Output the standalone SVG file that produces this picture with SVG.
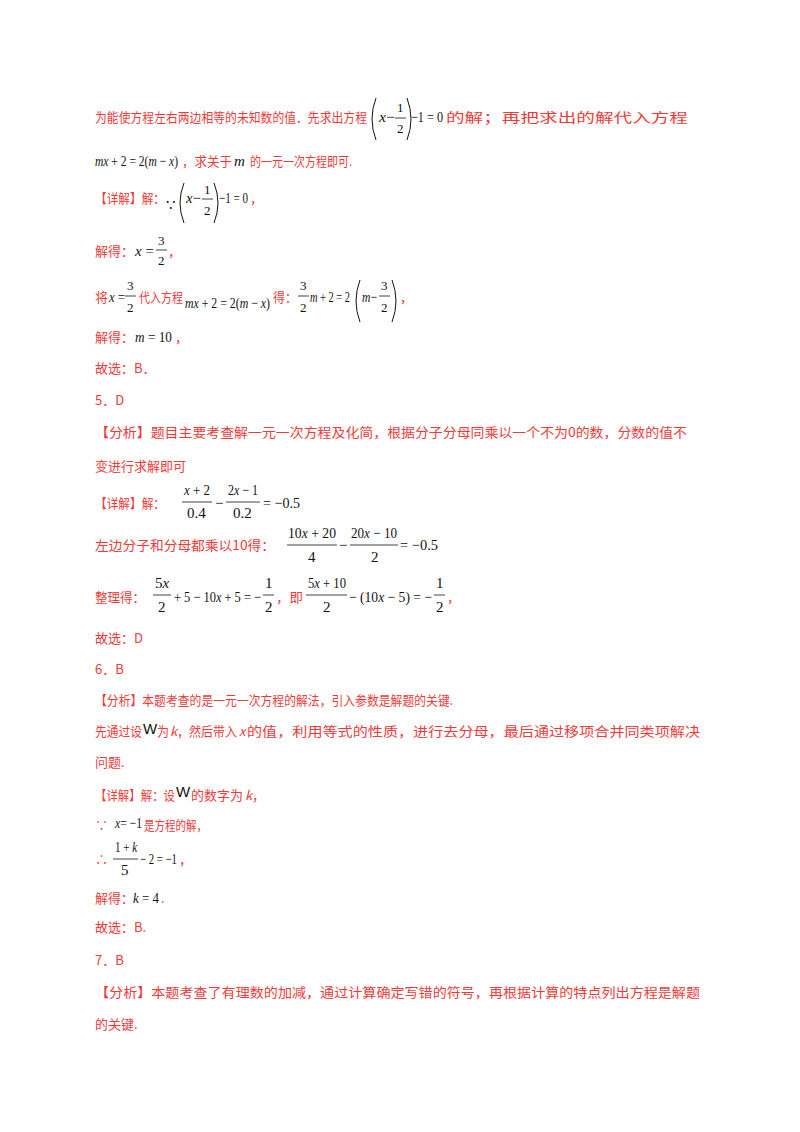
<svg xmlns="http://www.w3.org/2000/svg" width="800" height="1132" viewBox="0 0 800 1132">
<style>
.r{fill:#f03a3a;font-family:"Noto Sans CJK SC",sans-serif;font-size:13px}
.m{fill:#111;font-family:"Liberation Serif",serif;font-size:15px}
.i{font-style:italic}
.s{font-size:13px}
.p{fill:none;stroke:#111;stroke-width:1}
.b{stroke:#111;stroke-width:0.8}
</style>
<rect width="800" height="1132" fill="#fff"/>
<text class="r" x="95" y="122" textLength="272" lengthAdjust="spacingAndGlyphs">为能使方程左右两边相等的未知数的值．先求出方程</text>
<path class="p" d="M376 98 Q368 119 376 140"/>
<text class="m" x="379" y="122" textLength="16" lengthAdjust="spacingAndGlyphs"><tspan class="i">x</tspan>−</text>
<text class="m s" x="397" y="112">1</text><line class="b" x1="395" y1="118" x2="406" y2="118"/><text class="m s" x="397" y="133">2</text>
<path class="p" d="M407 98 Q415 119 407 140"/>
<text class="m" x="411" y="122" textLength="32" lengthAdjust="spacingAndGlyphs">−1 = 0</text>
<text class="r" x="446" y="122" font-size="16" textLength="242" lengthAdjust="spacingAndGlyphs">的解；再把求出的解代入方程</text>
<text class="m" x="95" y="166" textLength="83" lengthAdjust="spacingAndGlyphs"><tspan class="i">mx</tspan> + 2 = 2(<tspan class="i">m</tspan> − <tspan class="i">x</tspan>)</text>
<text class="r" x="182" y="166" textLength="50" lengthAdjust="spacingAndGlyphs">，求关于</text>
<text class="m i" x="234" y="166">m</text>
<text class="r" x="250" y="166" textLength="102" lengthAdjust="spacingAndGlyphs">的一元一次方程即可.</text>
<text class="r" x="95" y="203" textLength="70" lengthAdjust="spacingAndGlyphs">【详解】解：</text>
<text class="m" x="166" y="210" font-size="11">∵</text>
<path class="p" d="M184 183 Q176 203 184 223"/>
<text class="m" x="186" y="203" textLength="15" lengthAdjust="spacingAndGlyphs"><tspan class="i">x</tspan>−</text>
<text class="m s" x="204" y="194">1</text><line class="b" x1="202" y1="199" x2="213" y2="199"/><text class="m s" x="204" y="215">2</text>
<path class="p" d="M214 183 Q222 203 214 223"/>
<text class="m" x="219" y="203" textLength="29" lengthAdjust="spacingAndGlyphs">−1 = 0</text>
<text class="r" x="250" y="203">，</text>
<text class="r" x="95" y="256">解得：</text>
<text class="m" x="135" y="256"><tspan class="i">x</tspan> =</text>
<text class="m s" x="158" y="245">3</text><line class="b" x1="156" y1="250" x2="167" y2="250"/><text class="m s" x="158" y="265">2</text>
<text class="r" x="168" y="256">，</text>
<text class="r" x="95" y="302">将</text>
<text class="m" x="109" y="302" textLength="16" lengthAdjust="spacingAndGlyphs"><tspan class="i">x</tspan> =</text>
<text class="m s" x="127" y="290">3</text><line class="b" x1="125" y1="296" x2="136" y2="296"/><text class="m s" x="127" y="312">2</text>
<text class="r" x="139" y="302" textLength="44" lengthAdjust="spacingAndGlyphs">代入方程</text>
<text class="m" x="185" y="308" textLength="85" lengthAdjust="spacingAndGlyphs"><tspan class="i">mx</tspan> + 2 = 2(<tspan class="i">m</tspan> − <tspan class="i">x</tspan>)</text>
<text class="r" x="273" y="302" textLength="24" lengthAdjust="spacingAndGlyphs">得：</text>
<text class="m s" x="300" y="290">3</text><line class="b" x1="298" y1="296" x2="309" y2="296"/><text class="m s" x="300" y="312">2</text>
<text class="m" x="310" y="302" textLength="40" lengthAdjust="spacingAndGlyphs"><tspan class="i">m</tspan> + 2 = 2</text>
<path class="p" d="M360 280 Q352 301 360 322"/>
<text class="m" x="362" y="302" textLength="15" lengthAdjust="spacingAndGlyphs"><tspan class="i">m</tspan>−</text>
<text class="m s" x="381" y="290">3</text><line class="b" x1="379" y1="296" x2="390" y2="296"/><text class="m s" x="381" y="312">2</text>
<path class="p" d="M392 280 Q400 301 392 322"/>
<text class="r" x="400" y="302">，</text>
<text class="r" x="95" y="342">解得：</text>
<text class="m" x="135" y="342" textLength="37" lengthAdjust="spacingAndGlyphs"><tspan class="i">m</tspan> = 10</text>
<text class="r" x="175" y="342">，</text>
<text class="r" x="95" y="373">故选：B．</text>
<text class="r" x="95" y="405">5．D</text>
<text class="r" x="95" y="437" textLength="592" lengthAdjust="spacingAndGlyphs">【分析】题目主要考查解一元一次方程及化简，根据分子分母同乘以一个不为0的数，分数的值不</text>
<text class="r" x="95" y="471">变进行求解即可</text>
<text class="r" x="95" y="508" textLength="70" lengthAdjust="spacingAndGlyphs">【详解】解：</text>
<text class="m" x="184" y="495" font-size="14" textLength="26" lengthAdjust="spacingAndGlyphs"><tspan class="i">x</tspan> + 2</text><line class="b" x1="182" y1="502" x2="212" y2="502"/><text class="m" x="187" y="518" font-size="14">0.4</text>
<text class="m" x="215" y="508">−</text>
<text class="m" x="228" y="495" font-size="14" textLength="30" lengthAdjust="spacingAndGlyphs">2<tspan class="i">x</tspan> − 1</text><line class="b" x1="226" y1="502" x2="260" y2="502"/><text class="m" x="233" y="518" font-size="14">0.2</text>
<text class="m" x="263" y="508" textLength="37" lengthAdjust="spacingAndGlyphs">= −0.5</text>
<text class="r" x="95" y="550" textLength="180" lengthAdjust="spacingAndGlyphs">左边分子和分母都乘以10得：</text>
<text class="m" x="288" y="538" font-size="14" textLength="48" lengthAdjust="spacingAndGlyphs">10<tspan class="i">x</tspan> + 20</text><line class="b" x1="287" y1="545" x2="337" y2="545"/><text class="m" x="308" y="562" font-size="14">4</text>
<text class="m" x="339" y="550" font-size="13">−</text>
<text class="m" x="351" y="538" font-size="14" textLength="46" lengthAdjust="spacingAndGlyphs">20<tspan class="i">x</tspan> − 10</text><line class="b" x1="350" y1="545" x2="398" y2="545"/><text class="m" x="371" y="562" font-size="14">2</text>
<text class="m" x="400" y="550" textLength="38" lengthAdjust="spacingAndGlyphs">= −0.5</text>
<text class="r" x="95" y="602" textLength="50" lengthAdjust="spacingAndGlyphs">整理得：</text>
<text class="m" x="155" y="588" font-size="14">5<tspan class="i">x</tspan></text><line class="b" x1="153" y1="595" x2="171" y2="595"/><text class="m" x="158" y="612" font-size="14">2</text>
<text class="m" x="174" y="602" textLength="87" lengthAdjust="spacingAndGlyphs">+ 5 − 10<tspan class="i">x</tspan> + 5 = −</text>
<text class="m" x="265" y="588" font-size="14">1</text><line class="b" x1="263" y1="595" x2="274" y2="595"/><text class="m" x="265" y="612" font-size="14">2</text>
<text class="r" x="276" y="602" textLength="27" lengthAdjust="spacingAndGlyphs">，即</text>
<text class="m" x="308" y="588" font-size="14" textLength="38" lengthAdjust="spacingAndGlyphs">5<tspan class="i">x</tspan> + 10</text><line class="b" x1="306" y1="595" x2="347" y2="595"/><text class="m" x="323" y="612" font-size="14">2</text>
<text class="m" x="349" y="602" textLength="83" lengthAdjust="spacingAndGlyphs">− (10<tspan class="i">x</tspan> − 5) = −</text>
<text class="m" x="436" y="588" font-size="14">1</text><line class="b" x1="434" y1="595" x2="445" y2="595"/><text class="m" x="436" y="612" font-size="14">2</text>
<text class="r" x="447" y="602">，</text>
<text class="r" x="95" y="643">故选：D</text>
<text class="r" x="95" y="674">6．B</text>
<text class="r" x="95" y="705" textLength="358" lengthAdjust="spacingAndGlyphs">【分析】本题考查的是一元一次方程的解法，引入参数是解题的关键.</text>
<text class="r" x="95" y="736" textLength="47" lengthAdjust="spacingAndGlyphs">先通过设</text>
<text x="143" y="734" font-family="Liberation Sans,sans-serif" font-size="15" fill="#111">W</text>
<text class="r" x="157" y="736" textLength="12" lengthAdjust="spacingAndGlyphs">为</text>
<text class="r i" x="170" y="736" font-family="Liberation Serif,serif">k</text>
<text class="r" x="177" y="736" textLength="60" lengthAdjust="spacingAndGlyphs">，然后带入</text>
<text class="r i" x="239" y="736" font-family="Liberation Serif,serif">x</text>
<text class="r" x="247" y="736" textLength="453" lengthAdjust="spacingAndGlyphs">的值，利用等式的性质，进行去分母，最后通过移项合并同类项解决</text>
<text class="r" x="95" y="767">问题.</text>
<text class="r" x="95" y="800" textLength="80" lengthAdjust="spacingAndGlyphs">【详解】解：设</text>
<text x="176" y="797" font-family="Liberation Sans,sans-serif" font-size="15" fill="#111">W</text>
<text class="r" x="191" y="800" textLength="52" lengthAdjust="spacingAndGlyphs">的数字为</text>
<text class="r i" x="245" y="800" font-family="Liberation Serif,serif">k</text>
<text class="r" x="252" y="800">，</text>
<text class="r" x="95" y="830">∵</text>
<text class="m" x="115" y="828" textLength="27" lengthAdjust="spacingAndGlyphs"><tspan class="i">x</tspan>= −1</text>
<text class="r" x="144" y="830" textLength="63" lengthAdjust="spacingAndGlyphs">是方程的解，</text>
<text class="r" x="95" y="864">∴</text>
<text class="m" x="115" y="852" font-size="14" textLength="22" lengthAdjust="spacingAndGlyphs">1 + <tspan class="i">k</tspan></text><line class="b" x1="113" y1="859" x2="138" y2="859"/><text class="m" x="121" y="875" font-size="14">5</text>
<text class="m" x="140" y="864" textLength="37" lengthAdjust="spacingAndGlyphs">− 2 = −1</text>
<text class="r" x="179" y="864">，</text>
<text class="r" x="95" y="903">解得：</text>
<text class="m" x="133" y="903" textLength="26" lengthAdjust="spacingAndGlyphs"><tspan class="i">k</tspan> = 4</text>
<text class="r" x="161" y="903">.</text>
<text class="r" x="95" y="932">故选：B.</text>
<text class="r" x="95" y="965">7．B</text>
<text class="r" x="95" y="997" textLength="605" lengthAdjust="spacingAndGlyphs">【分析】本题考查了有理数的加减，通过计算确定写错的符号，再根据计算的特点列出方程是解题</text>
<text class="r" x="95" y="1029">的关键.</text>
</svg>
